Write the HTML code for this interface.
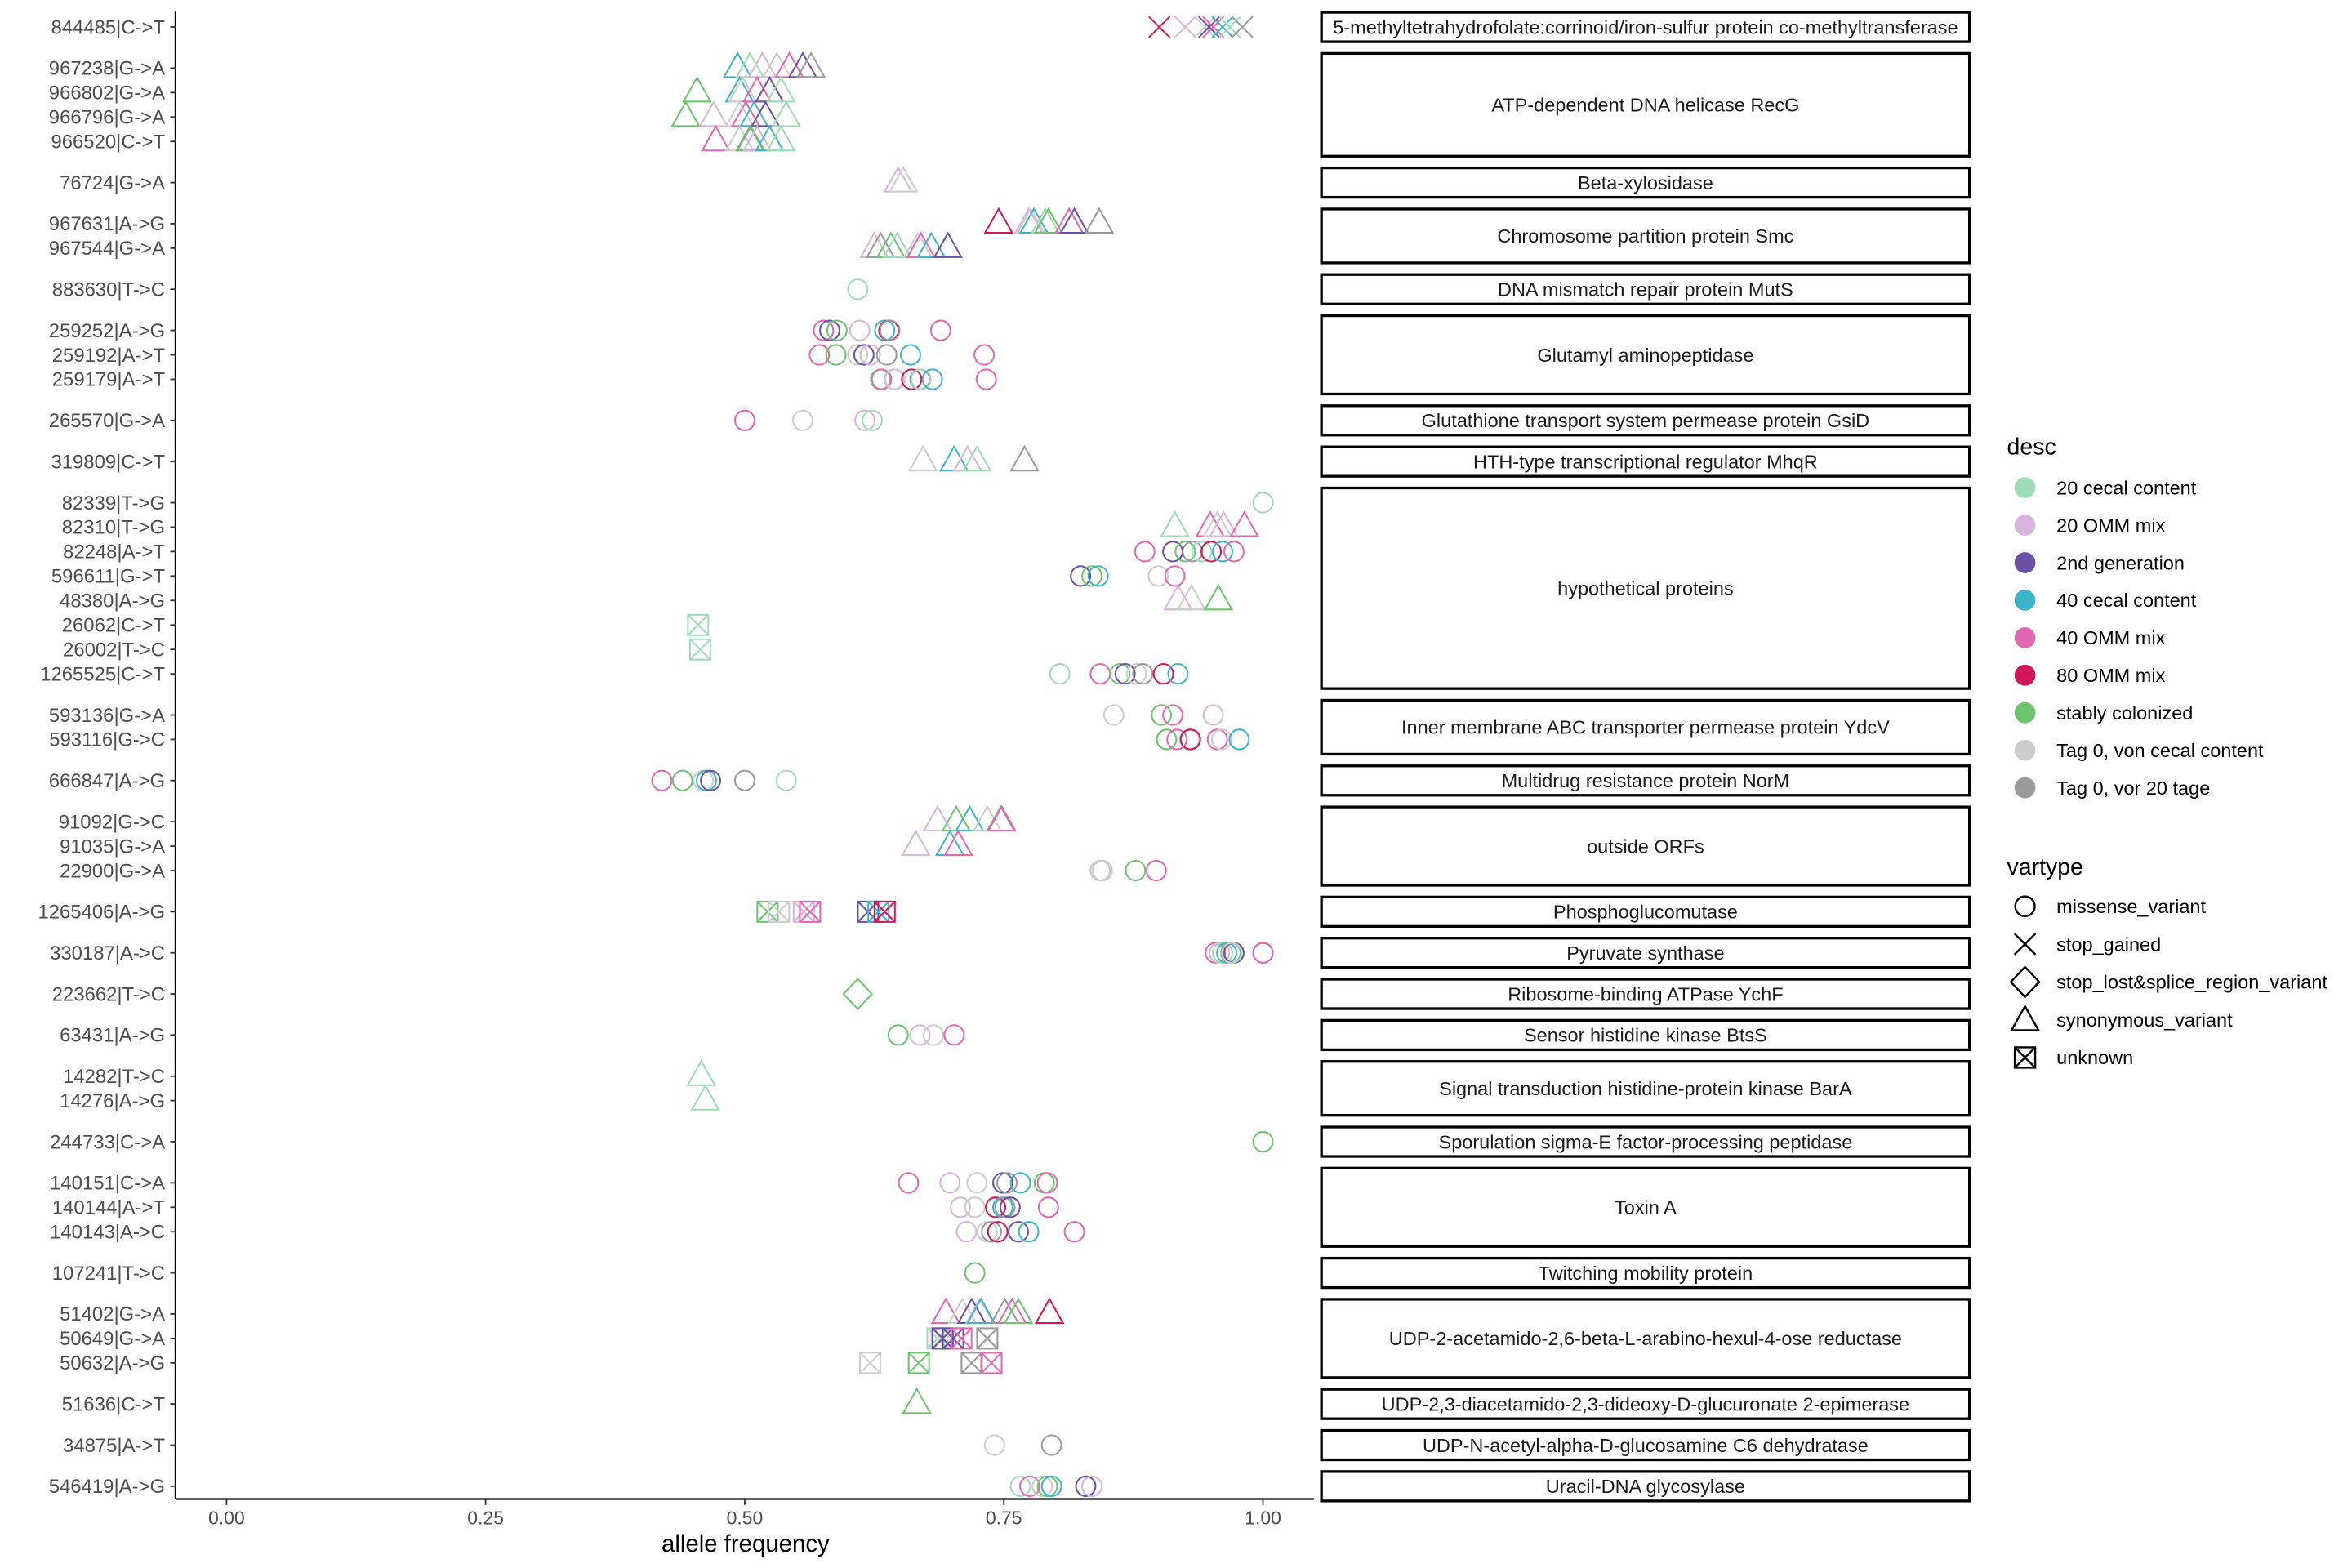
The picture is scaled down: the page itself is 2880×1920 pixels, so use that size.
<!DOCTYPE html>
<html><head><meta charset="utf-8"><style>
html,body{margin:0;padding:0;background:#fff}
svg{display:block}
text{font-family:"Liberation Sans",sans-serif}
</style></head><body>
<svg id="chart" width="2880" height="1920" viewBox="0 0 1568 1045" preserveAspectRatio="none" xmlns="http://www.w3.org/2000/svg"></svg>
<script>
const rowLabels = ["844485|C->T","967238|G->A","966802|G->A","966796|G->A","966520|C->T","76724|G->A","967631|A->G","967544|G->A","883630|T->C","259252|A->G","259192|A->T","259179|A->T","265570|G->A","319809|C->T","82339|T->G","82310|T->G","82248|A->T","596611|G->T","48380|A->G","26062|C->T","26002|T->C","1265525|C->T","593136|G->A","593116|G->C","666847|A->G","91092|G->C","91035|G->A","22900|G->A","1265406|A->G","330187|A->C","223662|T->C","63431|A->G","14282|T->C","14276|A->G","244733|C->A","140151|C->A","140144|A->T","140143|A->C","107241|T->C","51402|G->A","50649|G->A","50632|A->G","51636|C->T","34875|A->T","546419|A->G"];
const panelSizes = [1,4,1,2,1,3,1,1,8,2,1,3,1,1,1,1,2,1,3,1,3,1,1,1];
const panelNames = ["5-methyltetrahydrofolate:corrinoid/iron-sulfur protein co-methyltransferase","ATP-dependent DNA helicase RecG","Beta-xylosidase","Chromosome partition protein Smc","DNA mismatch repair protein MutS","Glutamyl aminopeptidase","Glutathione transport system permease protein GsiD","HTH-type transcriptional regulator MhqR","hypothetical proteins","Inner membrane ABC transporter permease protein YdcV","Multidrug resistance protein NorM","outside ORFs","Phosphoglucomutase","Pyruvate synthase","Ribosome-binding ATPase YchF","Sensor histidine kinase BtsS","Signal transduction histidine-protein kinase BarA","Sporulation sigma-E factor-processing peptidase","Toxin A","Twitching mobility protein","UDP-2-acetamido-2,6-beta-L-arabino-hexul-4-ose reductase","UDP-2,3-diacetamido-2,3-dideoxy-D-glucuronate 2-epimerase","UDP-N-acetyl-alpha-D-glucosamine C6 dehydratase","Uracil-DNA glycosylase"];
const rowShapes = "xtttttttccccctctcctuuccccttcucdcttccccctuutcc";
const rowGroups = ["FBHCEDAI","DABHECI","GDHECA","GBHEDCA","EHIGBDA","BH","FBHDAGECI","BIGAHEDC","A","ECGBDFIE","EGHCBIDE","GEBHFIADE","EHBA","HDBAI","A","AEHBE","ECGIAFDE","CGDHE","BHG","A","A","AEGCHIFD","HGEB","GEHFEHD","EGHDCIA","BGDHIE","BDE","BHGE","GHBECDF","EBADGCHIE","G","GBHE","A","A","G","EBHCIDGE","BHFDICE","BHIFCDE","G","EHCBDIEGF","AHCCEI","HGIE","G","HI","AEHGDCB"];
const rowValues = [
[0.900,0.925,0.944,0.948,0.952,0.961,0.968,0.980],
[0.493,0.505,0.517,0.531,0.543,0.556,0.564],
[0.454,0.495,0.498,0.512,0.524,0.535],
[0.443,0.470,0.495,0.501,0.509,0.520,0.540],
[0.472,0.495,0.505,0.506,0.512,0.524,0.535],
[0.648,0.653],
[0.745,0.774,0.776,0.779,0.790,0.793,0.813,0.818,0.842],
[0.625,0.631,0.641,0.647,0.667,0.670,0.680,0.696],
[0.609],
[0.576,0.582,0.589,0.611,0.635,0.639,0.640,0.689],
[0.572,0.588,0.609,0.615,0.621,0.637,0.660,0.731],
[0.631,0.632,0.644,0.645,0.661,0.669,0.670,0.681,0.733],
[0.500,0.556,0.616,0.623],
[0.672,0.702,0.715,0.724,0.770],
[1.000],
[0.915,0.949,0.956,0.962,0.982],
[0.886,0.913,0.925,0.932,0.941,0.950,0.961,0.972],
[0.824,0.835,0.841,0.899,0.915],
[0.918,0.931,0.957],
[0.455],
[0.457],
[0.804,0.843,0.862,0.867,0.878,0.884,0.904,0.918],
[0.856,0.902,0.913,0.952],
[0.907,0.917,0.929,0.930,0.956,0.960,0.977],
[0.420,0.440,0.460,0.463,0.467,0.500,0.540],
[0.686,0.704,0.717,0.734,0.747,0.748],
[0.665,0.698,0.706],
[0.843,0.845,0.877,0.897],
[0.522,0.533,0.557,0.563,0.619,0.629,0.635],
[0.954,0.958,0.961,0.965,0.969,0.972,0.970,1.000,1.000],
[0.609],
[0.648,0.669,0.682,0.702],
[0.458],
[0.462],
[1.000],
[0.658,0.698,0.724,0.749,0.753,0.766,0.789,0.792],
[0.708,0.722,0.742,0.749,0.751,0.756,0.793],
[0.714,0.734,0.738,0.744,0.764,0.774,0.818],
[0.722],
[0.694,0.710,0.719,0.727,0.728,0.751,0.758,0.764,0.794],
[0.686,0.690,0.691,0.701,0.709,0.734],
[0.621,0.668,0.719,0.738],
[0.666],
[0.741,0.796],
[0.766,0.775,0.787,0.792,0.796,0.829,0.835]
];
const xTicks = [0, 0.25, 0.5, 0.75, 1.0];
const xTickLabels = ["0.00","0.25","0.50","0.75","1.00"];
const groupCodes = "ABCDEFGHI";
const groupNames = ["20 cecal content","20 OMM mix","2nd generation","40 cecal content","40 OMM mix","80 OMM mix","stably colonized","Tag 0, von cecal content","Tag 0, vor 20 tage"];
const groupColors = ["#9edcb6","#d6b4dc","#6a51a3","#3db5c9","#e267b2","#d3155a","#6cc46c","#cccccc","#999999"];
const shapeCodes = "cxdtu";
const shapeNames = ["missense_variant","stop_gained","stop_lost&splice_region_variant","synonymous_variant","unknown"];

const NS = "http://www.w3.org/2000/svg";
const svg = document.getElementById("chart");
function mk(tag, attrs, parent){const e=document.createElementNS(NS,tag);for(const k in attrs)e.setAttribute(k,attrs[k]);(parent||svg).appendChild(e);return e;}
const X0 = 151, XS = 691;
function xScale(v){return X0 + XS*v;}
const ROW = 16.3, GAP = 27.4, FIRST = 18, PAD = 9.8;
const rowY = []; const panelTop = []; const panelBot = [];
(function(){
  let y = FIRST, first = true;
  panelSizes.forEach((n)=>{
    for(let k=0;k<n;k++){
      if(!first) y += (k===0 ? GAP : ROW);
      first = false;
      if(k===0) panelTop.push(y-PAD);
      rowY.push(y);
    }
    panelBot.push(y+PAD);
  });
})();

function drawShape(shape, cx, cy, color, parent){
  const a={fill:"none",stroke:color,"stroke-width":1.1};
  let e;
  if(shape==="c"){ e=mk("ellipse",Object.assign({cx:cx,cy:cy,rx:6.5,ry:6.6},a),parent); }
  else if(shape==="t"){ e=mk("polygon",Object.assign({points:`${cx},${cy-10} ${cx-9},${cy+6} ${cx+9},${cy+6}`},a),parent); }
  else if(shape==="d"){ e=mk("polygon",Object.assign({points:`${cx},${cy-10} ${cx+9.5},${cy} ${cx},${cy+10} ${cx-9.5},${cy}`},a),parent); }
  else if(shape==="x"){ e=mk("path",Object.assign({d:`M${cx-7},${cy-7}L${cx+7},${cy+7}M${cx+7},${cy-7}L${cx-7},${cy+7}`},a),parent); }
  else { e=mk("path",Object.assign({d:`M${cx-6.8},${cy-6.8}h13.6v13.6h-13.6zM${cx-6.8},${cy-6.8}L${cx+6.8},${cy+6.8}M${cx+6.8},${cy-6.8}L${cx-6.8},${cy+6.8}`},a),parent); }
  return e;
}

const axes = mk("g",{});


const yl = mk("line",{x1:117,y1:panelTop[0]-1,x2:117,y2:999,stroke:"#000","stroke-width":1.2},axes);


const xl = mk("line",{x1:117,y1:999,x2:876,y2:999,stroke:"#000","stroke-width":1.2},axes);


rowLabels.forEach((lab,i)=>{
  const y=rowY[i];
  mk("line",{x1:113.5,y1:y,x2:117,y2:y,stroke:"#333","stroke-width":1},axes);
  const t=mk("text",{x:110,y:y+4.5,"text-anchor":"end","font-size":13,fill:"#4d4d4d"},axes);
  t.textContent=lab;
  
  
});
xTicks.forEach((v,i)=>{
  const x=xScale(v);
  mk("line",{x1:x,y1:999,x2:x,y2:1003,stroke:"#333","stroke-width":1},axes);
  const t=mk("text",{x:x,y:1016,"text-anchor":"middle","font-size":12.5,fill:"#4d4d4d"},axes);
  t.textContent=xTickLabels[i];
  
  
});
const xt=mk("text",{x:497,y:1034,"text-anchor":"middle","font-size":16,fill:"#000"});
xt.textContent="allele frequency";



panelNames.forEach((nm,p)=>{
  const g=mk("g",{});
  
  
  mk("rect",{x:881,y:panelTop[p],width:432,height:panelBot[p]-panelTop[p],fill:"#fff",stroke:"#000","stroke-width":1.8},g);
  const t=mk("text",{x:1097,y:(panelTop[p]+panelBot[p])/2+4.5,"text-anchor":"middle","font-size":12.8,fill:"#1a1a1a"},g);
  t.textContent=nm;
});

const pts = mk("g",{});


rowValues.forEach((vals,r)=>{
  vals.forEach((v,k)=>{
    const gi=groupCodes.indexOf(rowGroups[r][k]);
    const e=drawShape(rowShapes[r], xScale(v), rowY[r], groupColors[gi], pts);
    
    
  });
});

const lg=mk("g",{});


const t1=mk("text",{x:1338,y:303,"font-size":15.5,fill:"#000"},lg); t1.textContent="desc";
groupNames.forEach((nm,i)=>{
  const y=325+25*i;
  const c=mk("circle",{cx:1350,cy:y,r:7,fill:groupColors[i]},lg);
  
  
  const t=mk("text",{x:1371,y:y+4.5,"font-size":12.8,fill:"#000"},lg); t.textContent=nm;
});
const t2=mk("text",{x:1338,y:583,"font-size":15.5,fill:"#000"},lg); t2.textContent="vartype";
shapeNames.forEach((nm,i)=>{
  const y=604+25.2*i;
  const e=drawShape(shapeCodes[i],1350,y+(shapeCodes[i]==="t"?1:0),"#000",lg);
  e.setAttribute("stroke-width",1.3);
  
  
  const t=mk("text",{x:1371,y:y+4.5,"font-size":12.8,fill:"#000"},lg); t.textContent=nm;
});
</script>
</body></html>
